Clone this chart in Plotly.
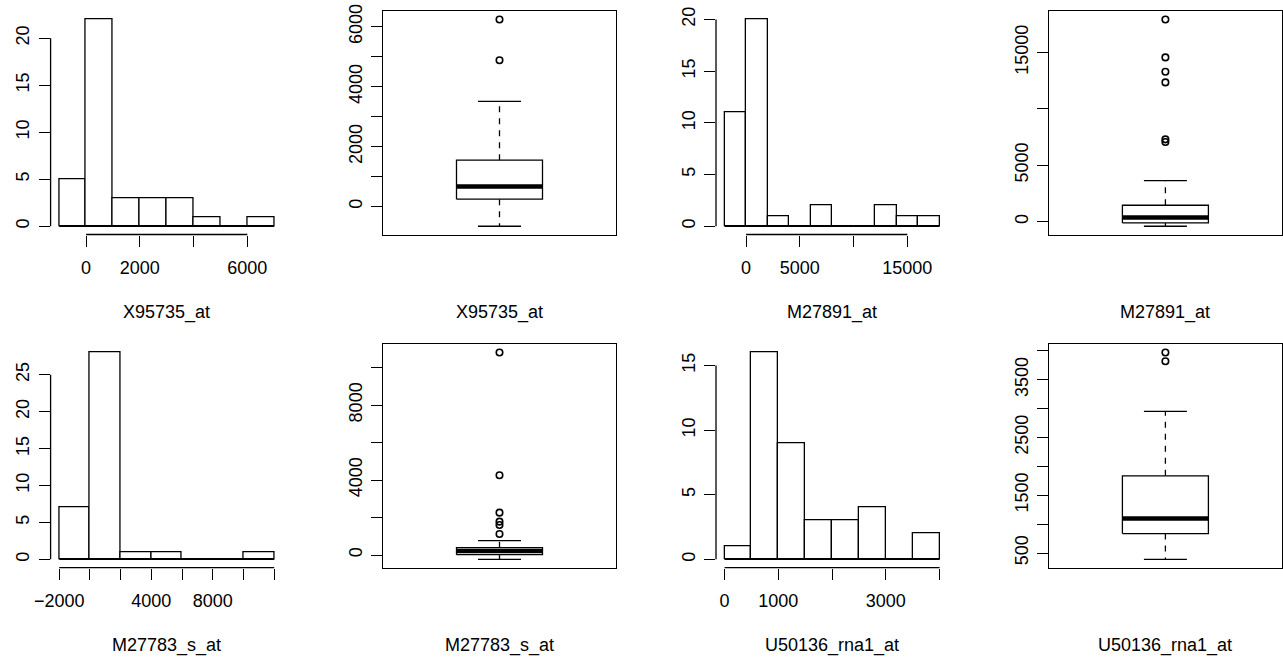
import plotly.graph_objects as go

W, H = 1283, 661

# ---------------- data ----------------
gene_names = ["X95735_at", "M27891_at", "M27783_s_at", "U50136_rna1_at"]

# histogram bin edges and counts
hist_edges_X95735 = [-1000, 0, 1000, 2000, 3000, 4000, 5000, 6000, 7000]
hist_counts_X95735 = [5, 22, 3, 3, 3, 1, 0, 1]
hist_edges_M27891 = [-2000, 0, 2000, 4000, 6000, 8000, 10000, 12000, 14000, 16000, 18000]
hist_counts_M27891 = [11, 20, 1, 0, 2, 0, 0, 2, 1, 1]
hist_edges_M27783 = [-2000, 0, 2000, 4000, 6000, 8000, 10000, 12000]
hist_counts_M27783 = [7, 28, 1, 1, 0, 0, 1]
hist_edges_U50136 = [0, 500, 1000, 1500, 2000, 2500, 3000, 3500, 4000]
hist_counts_U50136 = [1, 16, 9, 3, 3, 4, 0, 2]

# boxplot stats: [lower whisker, Q1, median, Q3, upper whisker]
box_stats_X95735 = [-659, 244, 669, 1548, 3512]
box_out_X95735 = [4883, 6244]
box_stats_M27891 = [-407, -115, 372, 1452, 3630]
box_out_M27891 = [7057, 7296, 12344, 13283, 14557, 17920]
box_stats_M27783 = [-230, 16, 214, 390, 763]
box_out_M27783 = [1121, 1602, 1780, 2260, 4255, 10800]
box_stats_U50136 = [391, 836, 1096, 1835, 2952]
box_out_U50136 = [3819, 3968]

# axis ticks and their labels ("" = label not drawn)
hist_xticks_X95735 = [0, 2000, 4000, 6000]
hist_xlabels_X95735 = ["0", "2000", "", "6000"]
hist_yticks_X95735 = [0, 5, 10, 15, 20]
box_yticks_X95735 = [0, 1000, 2000, 3000, 4000, 5000, 6000]
box_ylabels_X95735 = ["0", "", "2000", "", "4000", "", "6000"]

hist_xticks_M27891 = [0, 5000, 10000, 15000]
hist_xlabels_M27891 = ["0", "5000", "", "15000"]
hist_yticks_M27891 = [0, 5, 10, 15, 20]
box_yticks_M27891 = [0, 5000, 10000, 15000]
box_ylabels_M27891 = ["0", "5000", "", "15000"]

hist_xticks_M27783 = [-2000, 0, 2000, 4000, 6000, 8000, 10000, 12000]
hist_xlabels_M27783 = ["\u22122000", "", "", "4000", "", "8000", "", ""]
hist_yticks_M27783 = [0, 5, 10, 15, 20, 25]
box_yticks_M27783 = [0, 2000, 4000, 6000, 8000, 10000]
box_ylabels_M27783 = ["0", "", "4000", "", "8000", ""]

hist_xticks_U50136 = [0, 1000, 2000, 3000, 4000]
hist_xlabels_U50136 = ["0", "1000", "", "3000", ""]
hist_yticks_U50136 = [0, 5, 10, 15]
box_yticks_U50136 = [500, 1000, 1500, 2000, 2500, 3000, 3500, 4000]
box_ylabels_U50136 = ["500", "", "1500", "", "2500", "", "3500", ""]

# ---------------- layout geometry (pixels) ----------------
col_left = [50.6, 383.4, 716.0, 1049.3]
row_top = [11.2, 344.3]
PW, PH = 232.2, 223.3
TITLE_OFF = 78.0

FONT = dict(family="Liberation Sans, Arial, sans-serif", size=18, color="black")
LW = 1.3
TICKLEN = 11

fig = go.Figure()
layout = dict(
    width=W, height=H, margin=dict(l=0, r=0, t=0, b=0, pad=0, autoexpand=False),
    autosize=False,
    paper_bgcolor="white", plot_bgcolor="white", showlegend=False,
    font=FONT, bargap=0,
)
shapes = []
annotations = []


def ext(lo, hi):
    d = (hi - lo) * 0.04
    return [lo - d, hi + d]


def ids(n):
    s = "" if n == 1 else str(n)
    return "x" + s, "y" + s, "xaxis" + s, "yaxis" + s


def domains(col, row):
    x0 = col_left[col]
    y0 = row_top[row]
    return ([x0 / W, (x0 + PW) / W], [1 - (y0 + PH) / H, 1 - y0 / H])


def add_title(col, row, text):
    x0 = col_left[col]
    y0 = row_top[row]
    annotations.append(dict(
        text=text, xref="paper", yref="paper",
        x=(x0 + PW / 2) / W, y=1 - (y0 + PH + TITLE_OFF) / H,
        xanchor="center", yanchor="middle", showarrow=False, font=FONT,
    ))


def add_hist(n, col, row, edges, counts, xticks, xlabels, yticks, title):
    xd, yd = domains(col, row)
    xa, ya, xk, yk = ids(n)
    centers = [(edges[i] + edges[i + 1]) / 2 for i in range(len(counts))]
    widths = [edges[i + 1] - edges[i] for i in range(len(counts))]
    fig.add_trace(go.Bar(
        x=centers, y=counts, width=widths, xaxis=xa, yaxis=ya,
        marker=dict(color="white", line=dict(color="black", width=LW)),
        hoverinfo="skip",
    ))
    # baseline of the bars (zero-height bins are drawn as flat lines in R)
    fig.add_trace(go.Scatter(
        x=[edges[0], edges[-1]], y=[0, 0], mode="lines", xaxis=xa, yaxis=ya,
        line=dict(color="black", width=LW), hoverinfo="skip",
    ))
    layout[xk] = dict(
        domain=xd, anchor=ya, range=ext(edges[0], edges[-1]), automargin=False,
        showgrid=False, zeroline=False, showline=False,
        tickmode="array", tickvals=xticks, ticktext=xlabels,
        ticks="outside", ticklen=TICKLEN, tickwidth=LW, tickcolor="black",
        tickfont=FONT, ticklabelstandoff=6,
    )
    layout[yk] = dict(
        domain=yd, anchor=xa, range=ext(0, max(counts)), automargin=False,
        showgrid=False, zeroline=False, showline=False,
        tickmode="array", tickvals=yticks, ticktext=[str(v) for v in yticks],
        ticks="outside", ticklen=TICKLEN, tickwidth=LW, tickcolor="black",
        tickfont=FONT, tickangle=-90, ticklabelstandoff=2,
    )
    shapes.append(dict(type="line", xref=f"{xa} domain", yref=ya,
                       x0=0, x1=0, y0=yticks[0], y1=yticks[-1],
                       line=dict(color="black", width=LW)))
    shapes.append(dict(type="line", xref=xa, yref=f"{ya} domain",
                       x0=xticks[0], x1=xticks[-1], y0=0, y1=0,
                       line=dict(color="black", width=LW)))
    add_title(col, row, title)


def add_box(n, col, row, stats, outliers, yticks, ylabels, title):
    xd, yd = domains(col, row)
    xa, ya, xk, yk = ids(n)
    lo, q1, med, q3, hi = stats
    bl, br = 0.8, 1.2      # box edges (boxwex)
    cl, cr = 0.9, 1.1      # staple edges
    line = dict(color="black", width=LW)
    common = dict(xaxis=xa, yaxis=ya, mode="lines", hoverinfo="skip")
    # whiskers (dashed)
    fig.add_trace(go.Scatter(x=[1, 1], y=[q3, hi], line=dict(color="black", width=LW, dash="6px,6px"), **common))
    fig.add_trace(go.Scatter(x=[1, 1], y=[q1, lo], line=dict(color="black", width=LW, dash="6px,6px"), **common))
    # staples
    fig.add_trace(go.Scatter(x=[cl, cr], y=[hi, hi], line=line, **common))
    fig.add_trace(go.Scatter(x=[cl, cr], y=[lo, lo], line=line, **common))
    # box
    fig.add_trace(go.Scatter(x=[bl, br, br, bl, bl], y=[q1, q1, q3, q3, q1],
                             fill="toself", fillcolor="white", line=line, **common))
    # median
    fig.add_trace(go.Scatter(x=[bl, br], y=[med, med], line=dict(color="black", width=4.5), **common))
    # outliers
    fig.add_trace(go.Scatter(x=[1] * len(outliers), y=outliers, mode="markers",
                             xaxis=xa, yaxis=ya, hoverinfo="skip",
                             marker=dict(symbol="circle-open", size=6.5, color="black",
                                         line=dict(color="black", width=1.6))))
    all_vals = stats + outliers
    layout[xk] = dict(
        domain=xd, anchor=ya, range=[0.46, 1.54], automargin=False,
        showgrid=False, zeroline=False, showline=True, mirror=True,
        linecolor="black", linewidth=LW, showticklabels=False, ticks="",
    )
    layout[yk] = dict(
        domain=yd, anchor=xa, range=ext(min(all_vals), max(all_vals)), automargin=False,
        showgrid=False, zeroline=False, showline=True, mirror=True,
        linecolor="black", linewidth=LW,
        tickmode="array", tickvals=yticks, ticktext=ylabels,
        ticks="outside", ticklen=TICKLEN, tickwidth=LW, tickcolor="black",
        tickfont=FONT, tickangle=-90, ticklabelstandoff=2,
    )
    add_title(col, row, title)


add_hist(1, 0, 0, hist_edges_X95735, hist_counts_X95735, hist_xticks_X95735,
         hist_xlabels_X95735, hist_yticks_X95735, gene_names[0])
add_box(2, 1, 0, box_stats_X95735, box_out_X95735, box_yticks_X95735,
        box_ylabels_X95735, gene_names[0])
add_hist(3, 2, 0, hist_edges_M27891, hist_counts_M27891, hist_xticks_M27891,
         hist_xlabels_M27891, hist_yticks_M27891, gene_names[1])
add_box(4, 3, 0, box_stats_M27891, box_out_M27891, box_yticks_M27891,
        box_ylabels_M27891, gene_names[1])
add_hist(5, 0, 1, hist_edges_M27783, hist_counts_M27783, hist_xticks_M27783,
         hist_xlabels_M27783, hist_yticks_M27783, gene_names[2])
add_box(6, 1, 1, box_stats_M27783, box_out_M27783, box_yticks_M27783,
        box_ylabels_M27783, gene_names[2])
add_hist(7, 2, 1, hist_edges_U50136, hist_counts_U50136, hist_xticks_U50136,
         hist_xlabels_U50136, hist_yticks_U50136, gene_names[3])
add_box(8, 3, 1, box_stats_U50136, box_out_U50136, box_yticks_U50136,
        box_ylabels_U50136, gene_names[3])

layout["shapes"] = shapes
layout["annotations"] = annotations
fig.update_layout(**layout)
fig.write_html(
    "out.html",
    config={"displayModeBar": False},
    post_script="document.body.style.margin='0';document.body.style.overflow='hidden';",
)
